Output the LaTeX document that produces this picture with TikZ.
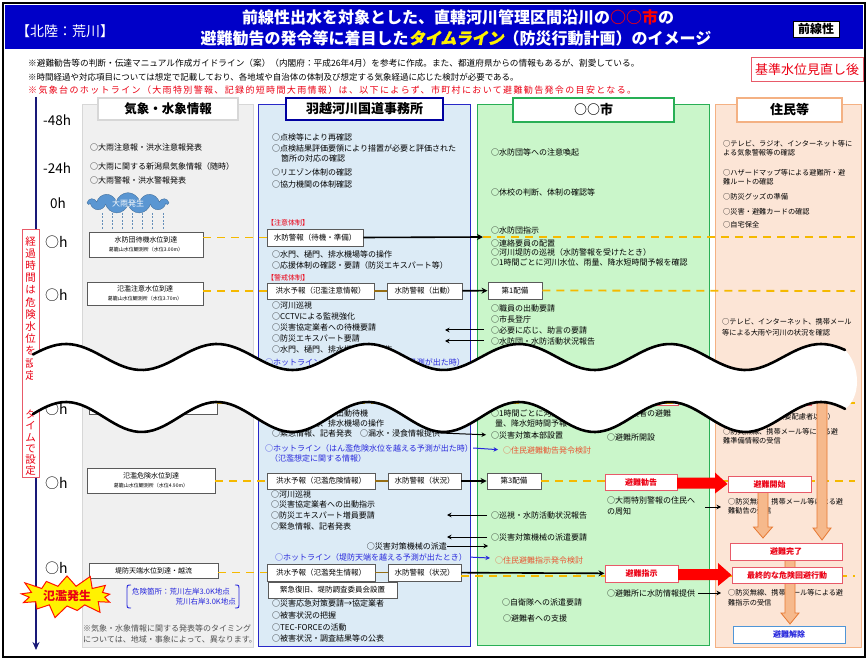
\documentclass[tikz,border=0pt]{standalone}
\usepackage{fontspec}
\setmainfont{Noto Sans CJK JP}
\newfontfamily\tlfont{Noto Sans CJK JP}[FakeSlant=0.2,FakeBold=1.5]
\newfontfamily\widefont{Noto Sans CJK JP}[LetterSpace=15]
\usetikzlibrary{shapes.symbols,arrows.meta}
\newcommand\fsz[1]{\fontsize{#1}{#1}\selectfont}
\definecolor{hdrblue}{RGB}{0,0,200}
\definecolor{grayfill}{RGB}{240,240,240}
\definecolor{grayline}{RGB}{215,215,215}
\definecolor{bluefill}{RGB}{220,235,246}
\definecolor{blueline}{RGB}{40,40,200}
\definecolor{bluehead}{RGB}{0,0,160}
\definecolor{greenfill}{RGB}{202,246,202}
\definecolor{greenline}{RGB}{40,175,85}
\definecolor{peachfill}{RGB}{252,229,214}
\definecolor{peachline}{RGB}{244,177,131}
\definecolor{dashyellow}{RGB}{245,185,0}
\definecolor{boxgray}{RGB}{90,90,90}
\definecolor{boxred}{RGB}{232,90,105}
\definecolor{notered}{RGB}{235,0,20}
\definecolor{hotblue}{RGB}{40,40,220}
\definecolor{advred}{RGB}{232,85,50}
\definecolor{arrfill}{RGB}{246,185,140}
\definecolor{arrdraw}{RGB}{230,120,50}
\definecolor{axisnavy}{RGB}{25,25,120}
\definecolor{cloudblue}{RGB}{90,150,210}
\definecolor{notegray}{RGB}{80,80,80}
\definecolor{linkbrown}{RGB}{150,110,20}
\definecolor{releaseblue}{RGB}{80,150,215}
\begin{document}
\begin{tikzpicture}[x=1pt,y=-1pt,
  tx/.style={anchor=west,inner sep=0pt,font=\fsz{8}},
  txs/.style={anchor=west,inner sep=0pt,font=\fsz{7.2}},
  bx/.style={draw=boxgray,fill=white,line width=0.9pt,inner sep=0pt,font=\fsz{7.5}},
  rbx/.style={draw=boxred,fill=white,line width=1pt,inner sep=0pt,text=notered,font=\fsz{8}\bfseries},
  dashy/.style={draw=dashyellow,line width=1.8pt,dash pattern=on 8pt off 6pt},
  blk/.style={draw=black,line width=1.6pt,-{Stealth[length=6pt,width=6pt]}},
  tarr/.style={draw=black,line width=1pt,-{Stealth[length=4.5pt,width=4.5pt]}},
  barr/.style={draw=hotblue,line width=1pt,-{Stealth[length=4.5pt,width=4.5pt]}},
  link/.style={draw=linkbrown,line width=1.6pt},
  oarr/.style={fill=arrfill,draw=arrdraw,line width=0.8pt},
  rarr/.style={fill=red},
  colhdr/.style={fill=white,inner sep=0pt,font=\fsz{13}\bfseries},
  tick/.style={anchor=west,inner sep=0pt,font=\fsz{13.5}},
]
\useasboundingbox (0,0) rectangle (868,660);
\fill[white] (0,0) rectangle (868,660);

% ---------- title band ----------
\fill[hdrblue] (5,5) rectangle (863,49);
\node[anchor=west,inner sep=0pt,font=\fsz{14},text=white] (region) at (16,31) {【北陸：荒川】};
\node[inner sep=0pt,font=\fsz{16}\bfseries,text=white] (title1) at (458,17) {前線性出水を対象とした、直轄河川管理区間沿川の\textcolor{red}{○○市}の};
\node[inner sep=0pt,font=\fsz{16}\bfseries,text=white] (title2) at (456,38) {避難勧告の発令等に着目した{\tlfont\color{yellow}タイムライン}（防災行動計画）のイメージ};
\node[draw=black,fill=white,line width=0.8pt,minimum width=46pt,minimum height=16pt,inner sep=0pt,font=\fsz{12}\bfseries] (front) at (816,29) {前線性};

% ---------- notes ----------
\node[anchor=west,inner sep=0pt,font=\fsz{8.66}] (note1) at (28,63) {※避難勧告等の判断・伝達マニュアル作成ガイドライン（案）（内閣府：平成26年4月）を参考に作成。また、都道府県からの情報もあるが、割愛している。};
\node[anchor=west,inner sep=0pt,font=\fsz{8.48}] (note2) at (28,77) {※時間経過や対応項目については想定で記載しており、各地域や自治体の体制及び想定する気象経過に応じた検討が必要である。};
\node[anchor=west,inner sep=0pt,font=\widefont\fsz{9},text=notered] (note3) at (28,90) {※気象台のホットライン（大雨特別警報、記録的短時間大雨情報）は、以下によらず、市町村において避難勧告発令の目安となる。};
\node[draw=boxred,line width=1pt,fill=white,minimum width=112pt,minimum height=24pt,inner sep=0pt,font=\fsz{13},text=notered] (revised) at (807,70) {基準水位見直し後};

% ---------- columns ----------
\filldraw[fill=grayfill,draw=grayline,line width=1pt] (82,105) rectangle (253,647);
\filldraw[fill=bluefill,draw=blueline,line width=1pt] (258,105) rectangle (470,646);
\filldraw[fill=greenfill,draw=greenline,line width=1pt] (477,105) rectangle (709,645);
\filldraw[fill=peachfill,draw=peachline,line width=1pt] (715,105) rectangle (861,647);
\node[colhdr,draw=grayline,line width=1.5pt,minimum width=140pt,minimum height=22pt,font=\fsz{12.5}\bfseries] (hweather) at (168,109) {気象・水象情報};
\node[colhdr,draw=bluehead,line width=2pt,minimum width=157pt,minimum height=22pt] (hoffice) at (364.5,109) {羽越河川国道事務所};
\node[colhdr,draw=greenline,line width=2pt,minimum width=161pt,minimum height=24pt] (hcity) at (593.5,110) {○○市};
\node[colhdr,draw=peachline,line width=2pt,minimum width=105pt,minimum height=24pt] (hres) at (789.5,110) {住民等};

% ---------- time axis ----------
\coordinate (axtop) at (36,97);
\coordinate (axbot) at (36,650);
\draw[axisnavy,line width=1.6pt,-{Stealth[length=8pt,width=7pt]}] (axtop) -- (axbot);
\node[tick] (t48) at (43,120) {-48h};
\node[tick] (t24) at (43,168) {-24h};
\node[tick] (t0) at (50,203) {0h};
\node[tick,font=\fsz{14}] (tA) at (45,242) {○h};
\node[tick,font=\fsz{14}] (tB) at (45,295) {○h};
\node[tick,font=\fsz{14}] (tC) at (45,409) {○h};
\node[tick,font=\fsz{14}] (tD) at (45,483) {○h};
\node[tick,font=\fsz{14}] (tE) at (45,568) {○h};
\node[draw=boxred,fill=white,line width=1pt,minimum width=17pt,minimum height=247pt,inner sep=0pt] (vbox) at (30.5,353.5) {};
\node[anchor=north,inner sep=0pt,align=center,text=notered,font=\fontsize{10.5}{12.2}\selectfont] (vtop) at (30.5,236) {経\\過\\時\\間\\は\\危\\険\\水\\位\\を\\設\\定};
\node[anchor=south,inner sep=0pt,align=center,text=notered,font=\fontsize{10.5}{11.3}\selectfont] (vbot) at (30.5,476) {タ\\イ\\ム\\で\\設\\定};

% ---------- weather column ----------
\node[tx] (w1) at (90,147) {○大雨注意報・洪水注意報発表};
\node[tx] (w2) at (90,166) {○大雨に関する新潟県気象情報（随時）};
\node[tx] (w3) at (90,180) {○大雨警報・洪水警報発表};
\foreach \rx in {102,112,122,132,142,152,163}
  \draw[cloudblue!70!gray,line width=0.8pt,dash pattern=on 2pt off 1.5pt] (\rx,213) -- (\rx,229);
\node[cloud,cloud puffs=11,aspect=4,fill=cloudblue,draw=cloudblue!75!black,minimum width=80pt,minimum height=19pt,inner sep=0pt,font=\fsz{8},text=white] (heavyrain) at (128,203) {大雨発生};
\node[bx,minimum width=114pt,minimum height=25pt,align=center] (wl1) at (146,244.5) {{\fsz{7}水防団待機水位到達}\\[1pt]{\fsz{5}葛籠山水位観測所（水位3.00m）}};
\node[bx,minimum width=116pt,minimum height=23pt,align=center] (wl2) at (145,293.5) {{\fsz{7}氾濫注意水位到達}\\[1pt]{\fsz{5}葛籠山水位観測所（水位3.70m）}};
\node[bx,minimum width=128pt,minimum height=18pt] (wl3) at (153,405) {};
\node[bx,minimum width=128pt,minimum height=25pt,align=center] (wl4) at (151,480.5) {{\fsz{7}氾濫危険水位到達}\\[1pt]{\fsz{5}葛籠山水位観測所（水位4.90m）}};
\node[bx,minimum width=129pt,minimum height=15pt,font=\fsz{7}] (wl5) at (153.5,570.5) {堤防天端水位到達・越流};
\node[anchor=west,inner sep=0pt,font=\fsz{7.5},text=hotblue] (danger1) at (132,592) {危険箇所：荒川左岸3.0K地点};
\node[anchor=east,inner sep=0pt,font=\fsz{7.5},text=hotblue] (danger2) at (236,602) {荒川右岸3.0K地点};
\draw[hotblue,line width=0.9pt] (131,585) .. controls (127,585) .. (127,590) -- (127,603) .. controls (127,608) .. (131,608);
\draw[hotblue,line width=0.9pt] (235,585) .. controls (239,585) .. (239,590) -- (239,603) .. controls (239,608) .. (235,608);
\node[tx,text=notegray] (wn1) at (83,628) {※気象・水象情報に関する発表等のタイミング};
\node[tx,text=notegray] (wn2) at (83,639) {については、地域・事象によって、異なります。};

% ---------- river office column ----------
\node[tx] (o1) at (272,137) {○点検等により再確認};
\node[tx] (o2) at (272,148) {○点検結果評価要領により措置が必要と評価された};
\node[tx] (o3) at (281,158) {箇所の対応の確認};
\node[tx] (o4) at (272,172) {○リエゾン体制の確認};
\node[tx] (o5) at (272,184) {○協力機関の体制確認};
\node[tx,font=\fsz{7},text=notered] (alert1) at (267,223) {【注意体制】};
\node[bx,minimum width=96pt,minimum height=17pt] (m1) at (315,237.5) {水防警報（待機・準備）};
\node[tx] (o6) at (272,254) {○水門、樋門、排水機場等の操作};
\node[tx] (o7) at (272,265) {○応援体制の確認・要請（防災エキスパート等）};
\node[tx,font=\fsz{7},text=notered] (alert2) at (267,278) {【警戒体制】};
\node[bx,minimum width=107pt,minimum height=16pt] (m2a) at (320.5,291) {洪水予報（氾濫注意情報）};
\node[bx,minimum width=75pt,minimum height=16pt] (m2b) at (424.5,291) {水防警報（出動）};
\node[tx] (o8) at (272,305) {○河川巡視};
\node[tx] (o9) at (272,316) {○CCTVによる監視強化};
\node[tx] (o10) at (272,327) {○災害協定業者への待機要請};
\node[tx] (o11) at (272,338) {○防災エキスパート要請};
\node[tx] (o12) at (272,349) {○水門、樋門、排水機場等の操作};
\node[tx,text=hotblue] (o13) at (265,362) {○ホットライン（避難判断水位を越える予測が出た時）};
\node[tx] (o14) at (272,413) {○災害協定業者の出動待機};
\node[tx] (o15) at (272,423) {○水門、樋門、排水機場の操作};
\node[tx] (o16) at (272,433) {○緊急情報、記者発表　○漏水・浸食情報提供};
\node[tx,text=hotblue] (o17) at (265,448) {○ホットライン（はん濫危険水位を越える予測が出た時）};
\node[tx,text=hotblue] (o18) at (270,458) {（氾濫想定に関する情報）};
\node[bx,minimum width=108pt,minimum height=16pt] (m4a) at (321,481) {洪水予報（氾濫危険情報）};
\node[bx,minimum width=73pt,minimum height=16pt] (m4b) at (424.5,481) {水防警報（状況）};
\node[tx] (o19) at (271,494) {○河川巡視};
\node[tx] (o20) at (271,504) {○災害協定業者への出動指示};
\node[tx] (o21) at (271,515) {○防災エキスパート増員要請};
\node[tx] (o22) at (271,526) {○緊急情報、記者発表};
\node[anchor=east,inner sep=0pt,font=\fsz{8}] (o23) at (447,546) {○災害対策機械の派遣};
\node[tx,text=hotblue] (o24) at (275,557) {○ホットライン（堤防天端を越える予測が出たとき）};
\node[bx,minimum width=108pt,minimum height=17pt] (m5a) at (321,572.5) {洪水予報（氾濫発生情報）};
\node[bx,minimum width=73pt,minimum height=17pt] (m5b) at (424.5,572.5) {水防警報（状況）};
\node[bx,minimum width=129pt,minimum height=16pt] (m6) at (332.5,590) {緊急復旧、堤防調査委員会設置};
\node[tx] (o25) at (272,603) {○災害応急対策要請→協定業者};
\node[tx] (o26) at (272,615) {○被害状況の把握};
\node[tx] (o27) at (272,627) {○TEC-FORCEの活動};
\node[tx] (o28) at (272,638) {○被害状況・調査結果等の公表};

% ---------- city column ----------
\node[tx] (c1) at (491,152) {○水防団等への注意喚起};
\node[tx] (c2) at (491,192) {○休校の判断、体制の確認等};
\node[tx] (c3) at (491,230) {○水防団指示};
\node[tx] (c4) at (491,243.5) {○連絡要員の配置};
\node[tx] (c5) at (491,252.5) {○河川堤防の巡視（水防警報を受けたとき）};
\node[tx] (c6) at (491,262) {○1時間ごとに河川水位、雨量、降水短時間予報を確認};
\node[bx,minimum width=54pt,minimum height=17pt] (r1) at (515,290.5) {第1配備};
\node[tx] (c7) at (491,308) {○職員の出動要請};
\node[tx] (c8) at (491,319) {○市長登庁};
\node[tx] (c9) at (491,330) {○必要に応じ、助言の要請};
\node[tx] (c10) at (491,341) {○水防団・水防活動状況報告};
\node[rbx,minimum width=73pt,minimum height=16pt] (prep) at (641.5,398) {};
\node[tx] (c11) at (491,413) {○1時間ごとに河川水位、雨};
\node[tx] (c12) at (495,423) {量、降水短時間予報を確認};
\node[tx] (c13) at (607,413) {○要援護者の避難};
\node[tx] (c14) at (491,435) {○災害対策本部設置};
\node[tx] (c15) at (607,437) {○避難所開設};
\node[tx,text=advred] (c16) at (503,450) {○住民避難勧告発令検討};
\node[bx,minimum width=54pt,minimum height=16pt] (r3) at (514,481) {第3配備};
\node[tx] (c17) at (607,500) {○大雨特別警報の住民へ};
\node[tx] (c18) at (607,511) {の周知};
\node[tx] (c19) at (491,515) {○巡視・水防活動状況報告};
\node[tx] (c20) at (491,537) {○災害対策機械の派遣要請};
\node[tx,text=advred] (c21) at (495,560) {○住民避難指示発令検討};
\node[tx] (c22) at (607,593) {○避難所に水防情報提供};
\node[tx] (c23) at (502,602) {○自衛隊への派遣要請};
\node[tx] (c24) at (503,618) {○避難者への支援};

% ---------- residents column ----------
\node[txs] (p1) at (723,144) {○テレビ、ラジオ、インターネット等に};
\node[txs] (p2) at (723,153) {よる気象警報等の確認};
\node[txs] (p3) at (723,173) {○ハザードマップ等による避難所・避};
\node[txs] (p4) at (723,182) {難ルートの確認};
\node[txs] (p5) at (723,197) {○防災グッズの準備};
\node[txs] (p6) at (723,212) {○災害・避難カードの確認};
\node[txs] (p7) at (723,225) {○自宅保全};
\node[txs] (p8) at (722,322) {○テレビ、インターネット、携帯メール};
\node[txs] (p9) at (722,333) {等による大雨や河川の状況を確認};
\node[rbx,minimum width=83pt,minimum height=16pt] (prepres) at (769.5,398) {};
\node[txs] (p10) at (777,417) {（要配慮者以外）};
\node[txs] (p11) at (723,432) {○防災無線、携帯メール等による避};
\node[txs] (p12) at (723,441) {難準備情報の受信};
\node[txs] (p13) at (728,502) {○防災無線、携帯メール等による避};
\node[txs] (p14) at (728,511) {難勧告の受信};
\node[txs] (p15) at (728,593) {○防災無線、携帯メール等による避};
\node[txs] (p16) at (728,603) {難指示の受信};

% ---------- yellow time rows ----------
\coordinate (cityA) at (483,237);
\coordinate (edgeA) at (858,237);
\coordinate (edgeB) at (855,291);
\coordinate (edgeC) at (858,403);
\coordinate (edgeD) at (855,481);
\coordinate (startE) at (461,576);
\coordinate (edgeE) at (855,576);
\draw[dashy] (wl1.east |- m1.west) -- (m1.west);
\draw[dashy] (cityA) -- (edgeA);
\draw[dashy] (wl2.east |- m2a.west) -- (m2a.west);
\draw[dashy] (r1.east) -- (edgeB);
\draw[dashy] (wl3.east |- edgeC) -- (edgeC);
\draw[dashy] (wl4.east |- m4a.west) -- (m4a.west);
\draw[dashy] (r3.east) -- (edgeD);
\draw[dashy] (wl5.east |- m5a.west) -- (m5a.west);
\draw[dashy] (startE) -- (edgeE);

% ---------- links and arrows ----------
\draw[link] (m2a) -- (m2b);
\draw[link] (m4a) -- (m4b);
\draw[link] (m5a) -- (m5b);
\draw[blk] (m1.east) -- (cityA);
\draw[blk] (m2b) -- (r1);
\draw[blk] (m4b) -- (r3);

\coordinate (helpA) at (445,330);
\coordinate (helpB) at (445,341);
\draw[tarr,shorten <=7pt] (c9.west) -- (helpA);
\draw[tarr,shorten <=7pt] (c10.west) -- (helpB);
\draw[tarr,shorten >=5pt] (o16.east) -- (c14.west);
\draw[barr,shorten >=5pt] (o17.east) -- (c16.west);
\coordinate (patrolA) at (447,515);
\coordinate (machA) at (447,537);
\coordinate (machB) at (488,546);
\coordinate (hotB) at (490,558);
\coordinate (noticeS) at (705,507);
\coordinate (noticeA) at (721,507);
\coordinate (shelterA) at (721,593);
\draw[tarr,shorten <=4pt] (c19.west) -- (patrolA);
\draw[tarr,shorten <=4pt] (c20.west) -- (machA);
\draw[tarr] (o23.east) -- (machB);
\draw[barr,shorten <=3pt] (o24.east) -- (hotB);
\draw[tarr] (noticeS) -- (noticeA);
\draw[tarr,shorten <=3pt] (c22.east) -- (shelterA);

% ---------- orange flow arrows ----------
\filldraw[oarr] (817,380) -- (827,380) -- (827,528) -- (831,528) -- (822,540) -- (813,528) -- (817,528) -- cycle;
\filldraw[oarr] (758,492) -- (768,492) -- (768,527) -- (772.5,527) -- (763,538) -- (753.5,527) -- (758,527) -- cycle;
\filldraw[oarr] (785,560) -- (795,560) -- (795,613) -- (799,613) -- (790,624) -- (781,613) -- (785,613) -- cycle;

% ---------- evacuation boxes ----------
\node[rbx,minimum width=72pt,minimum height=16pt] (advise) at (641,482) {避難勧告};
\node[rbx,minimum width=83pt,minimum height=16pt] (start) at (769.5,484) {避難開始};
\node[rbx,minimum width=112pt,minimum height=17pt] (done) at (786,551.5) {避難完了};
\node[rbx,minimum width=73pt,minimum height=17pt] (order) at (641.5,573.5) {避難指示};
\node[rbx,minimum width=110pt,minimum height=16pt] (final) at (787,575) {最終的な危険回避行動};
\node[draw=releaseblue,fill=white,line width=1pt,minimum width=112pt,minimum height=17pt,inner sep=0pt,text=hotblue,font=\fsz{8}\bfseries] (release) at (789,634.5) {避難解除};
\draw[blk] (m5b) -- (order);
\fill[rarr] (677,477.5) -- (715,477.5) -- (715,472.5) -- (start.west) -- (715,493.5) -- (715,488.5) -- (677,488.5) -- cycle;
\fill[rarr] (678,569) -- (718,569) -- (718,563) -- (final.west) -- (718,586) -- (718,580) -- (678,580) -- cycle;

% ---------- flood burst ----------
\node[starburst,starburst points=13,starburst point height=14pt,fill=yellow,draw=red!85!orange,line width=1pt,minimum width=104pt,minimum height=48pt,inner sep=0pt,font=\fsz{12}\bfseries,text=notered] (flood) at (67,596) {氾濫発生};

% ---------- break band (omitted stretch of time) ----------
\fill[white] plot[domain=33:845,samples=170] (\x,{357-13*cos(2.38411*(\x-66))})
  .. controls (861,366) and (861,398) .. (845,408.9)
  -- plot[domain=845:33,samples=170] (\x,{417-15*cos(2.38411*(\x-66))}) -- cycle;
\draw[line width=2.6pt,line cap=round] plot[domain=33:845,samples=170] (\x,{357-13*cos(2.38411*(\x-66))});
\draw[line width=2.6pt,line cap=round] plot[domain=33:845,samples=170] (\x,{417-15*cos(2.38411*(\x-66))});

% ---------- outer frame ----------
\draw[line width=2.5pt] (3,3) rectangle (865,657);
\end{tikzpicture}
\end{document}
